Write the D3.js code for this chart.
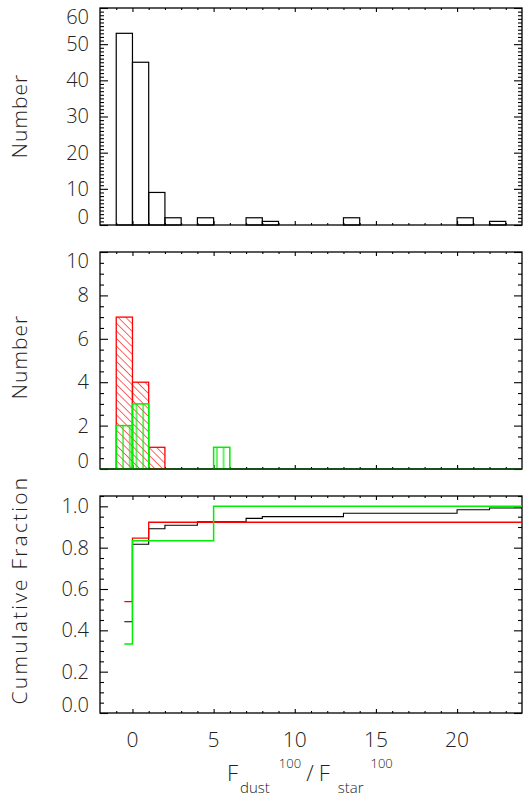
<!DOCTYPE html>
<html>
<head>
<meta charset="utf-8">
<script src="https://cdn.jsdelivr.net/npm/d3@7"></script>
<style>
  body { margin: 0; background: #fff; }
  text { font-family: "Open Sans", "DejaVu Sans", sans-serif; font-weight: 300; fill: #222; }
</style>
</head>
<body>
<div id="main"></div>
<script>
// data (bins of width 1, first bin starts at -1)
const binStart = -1;
const allCounts = [53, 45, 9, 2, 0, 2, 0, 0, 2, 1, 0, 0, 0, 0, 2, 0, 0, 0, 0, 0, 0, 2, 0, 1];
const redCounts = [7, 4, 1];
const greenCounts = [2, 3, 0, 0, 0, 0, 1];
const allTotal = 120;
const redTotal = 13;
const greenTotal = 6;

const xTicks = [0, 5, 10, 15, 20];
const topTicks = [0, 10, 20, 30, 40, 50, 60];
const midTicks = [0, 2, 4, 6, 8, 10];
const cumTicks = [0.0, 0.2, 0.4, 0.6, 0.8, 1.0];

const width = 530, height = 798;
const left = 100, right = 522;
const panels = [
    { top: 8, bottom: 225, domain: [0, 60], ticks: topTicks, minor: 1, fmt: d3.format('d'), title: 'Number', titleY: 116, spacing: 1 },
    { top: 252, bottom: 469, domain: [0, 10], ticks: midTicks, minor: 0.5, fmt: d3.format('d'), title: 'Number', titleY: 357, spacing: 1 },
    { top: 496, bottom: 713, domain: [0, 1.05], ticks: cumTicks, minor: 0.05, fmt: d3.format('.1f'), title: 'Cumulative Fraction', titleY: 590, spacing: 2.2 }
];

const svg = d3.select('#main')
    .append('svg')
    .attr('width', width)
    .attr('height', height);

const defs = svg.append('defs');
defs.append('pattern')
    .attr('id', 'hatchRed')
    .attr('patternUnits', 'userSpaceOnUse')
    .attr('width', 5.4).attr('height', 5.4)
    .attr('patternTransform', 'rotate(45)')
    .append('line')
    .attr('x1', 0).attr('y1', 0).attr('x2', 5.4).attr('y2', 0)
    .attr('stroke', '#ff0000').attr('stroke-width', 1.2);
defs.append('pattern')
    .attr('id', 'hatchGreen')
    .attr('patternUnits', 'userSpaceOnUse')
    .attr('x', 1.5)
    .attr('width', 6.7).attr('height', 10)
    .append('line')
    .attr('x1', 1).attr('y1', 0).attr('x2', 1).attr('y2', 10)
    .attr('stroke', '#00ee00').attr('stroke-width', 1.2);

const xScale = d3.scaleLinear().domain([-2, 24]).range([left, right]);
const minorX = d3.range(-1, 24, 1).filter(d => d % 5 !== 0);

panels.forEach((p) => {
    p.yScale = d3.scaleLinear().domain(p.domain).range([p.bottom, p.top]);
    const g = svg.append('g');

    // frame
    g.append('rect')
        .attr('x', left).attr('y', p.top)
        .attr('width', right - left).attr('height', p.bottom - p.top)
        .attr('fill', 'none').attr('stroke', '#000').attr('stroke-width', 1.3);

    const n = Math.round((p.domain[1] - p.domain[0]) / p.minor);
    const minorY = d3.range(0, n + 1).map(i => +(i * p.minor).toFixed(3))
        .filter(d => !p.ticks.some(t => Math.abs(t - d) < 1e-6));

    // y axes (left with labels, right mirrored)
    const yl = g.append('g').attr('transform', `translate(${left},0)`)
        .call(d3.axisLeft(p.yScale).tickValues(p.ticks).tickFormat(p.fmt).tickSizeInner(-8).tickSizeOuter(0).tickPadding(11));
    yl.selectAll('text')
        .style('font-size', '20px')
        .attr('dy', d => d === p.domain[0] ? '-0.1em' : (d === p.domain[1] ? '0.75em' : '0.32em'));
    g.append('g').attr('transform', `translate(${left},0)`)
        .call(d3.axisLeft(p.yScale).tickValues(minorY).tickFormat('').tickSizeInner(-4).tickSizeOuter(0));
    g.append('g').attr('transform', `translate(${right},0)`)
        .call(d3.axisRight(p.yScale).tickValues(p.ticks).tickFormat('').tickSizeInner(-8).tickSizeOuter(0));
    g.append('g').attr('transform', `translate(${right},0)`)
        .call(d3.axisRight(p.yScale).tickValues(minorY).tickFormat('').tickSizeInner(-4).tickSizeOuter(0));

    // x axes (bottom and top, inward ticks)
    g.append('g').attr('transform', `translate(0,${p.bottom})`)
        .call(d3.axisBottom(xScale).tickValues(xTicks).tickFormat('').tickSizeInner(-4).tickSizeOuter(0));
    g.append('g').attr('transform', `translate(0,${p.bottom})`)
        .call(d3.axisBottom(xScale).tickValues(minorX).tickFormat('').tickSizeInner(-2).tickSizeOuter(0));
    g.append('g').attr('transform', `translate(0,${p.top})`)
        .call(d3.axisTop(xScale).tickValues(xTicks).tickFormat('').tickSizeInner(-4).tickSizeOuter(0));
    g.append('g').attr('transform', `translate(0,${p.top})`)
        .call(d3.axisTop(xScale).tickValues(minorX).tickFormat('').tickSizeInner(-2).tickSizeOuter(0));

    svg.selectAll('.domain').remove();

    // y title
    svg.append('text')
        .attr('transform', `translate(27,${p.titleY}) rotate(-90)`)
        .attr('text-anchor', 'middle')
        .style('font-size', '21px')
        .style('letter-spacing', `${p.spacing}px`)
        .text(p.title);
});

svg.selectAll('.tick line').attr('stroke', '#000').attr('stroke-width', 1.1);

const binW = xScale(1) - xScale(0);

function drawHist(panel, counts, color, fill, sw) {
    svg.append('g').selectAll('rect')
        .data(counts.map((c, i) => ({ x0: binStart + i, c })).filter(d => d.c > 0))
        .enter()
        .append('rect')
        .attr('x', d => xScale(d.x0))
        .attr('y', d => panel.yScale(d.c))
        .attr('width', binW)
        .attr('height', d => panel.yScale(0) - panel.yScale(d.c))
        .attr('fill', fill)
        .attr('stroke', color)
        .attr('stroke-width', sw);
}

// top panel: all sources
drawHist(panels[0], allCounts, '#000', 'none', 1.2);

// middle panel: red hatched and green hatched
drawHist(panels[1], redCounts, '#ff0000', 'url(#hatchRed)', 1.3);
drawHist(panels[1], greenCounts, '#00ee00', 'url(#hatchGreen)', 1.5);
svg.append('line')
    .attr('x1', xScale(-2)).attr('x2', xScale(24))
    .attr('y1', panels[1].yScale(0)).attr('y2', panels[1].yScale(0))
    .attr('stroke', '#0a4a0a').attr('stroke-width', 1.5);

// bottom panel: cumulative fractions as steps
function cumPoints(counts, total) {
    let run = 0;
    const cum = counts.map(c => (run += c) / total);
    const pts = [[binStart + 0.5, cum[0]]];
    for (let i = 1; i < cum.length; i++) pts.push([binStart + i, cum[i]]);
    pts.push([24, cum[cum.length - 1]]);
    return pts;
}

const stepLine = d3.line()
    .x(d => xScale(d[0]))
    .y(d => panels[2].yScale(d[1]))
    .curve(d3.curveStepAfter);

[[allCounts, allTotal, '#000', 1.1], [redCounts, redTotal, '#ff0000', 1.3], [greenCounts, greenTotal, '#00ee00', 1.5]]
    .forEach(([counts, total, color, sw]) => {
        svg.append('path')
            .datum(cumPoints(counts, total))
            .attr('fill', 'none')
            .attr('stroke', color)
            .attr('stroke-width', sw)
            .attr('d', stepLine);
    });

// x tick labels under the bottom panel
svg.append('g').selectAll('text')
    .data(xTicks)
    .enter()
    .append('text')
    .attr('x', d => xScale(d))
    .attr('y', 747)
    .attr('text-anchor', 'middle')
    .style('font-size', '21px')
    .text(d => d);

// x title: F_dust^100 / F_star^100
const xt = svg.append('text')
    .attr('x', 227)
    .attr('y', 781)
    .style('font-size', '22px');
xt.append('tspan').text('F');
xt.append('tspan').attr('dx', 2).attr('dy', 12).style('font-size', '15px').text('dust');
xt.append('tspan').attr('dx', 9).attr('dy', -25).style('font-size', '13px').text('100');
xt.append('tspan').attr('dx', 5).attr('dy', 13).style('font-size', '22px').text('/');
xt.append('tspan').attr('dx', 5).text('F');
xt.append('tspan').attr('dx', 8).attr('dy', 12).style('font-size', '15px').text('star');
xt.append('tspan').attr('dx', 7).attr('dy', -25).style('font-size', '13px').text('100');
</script>
</body>
</html>
